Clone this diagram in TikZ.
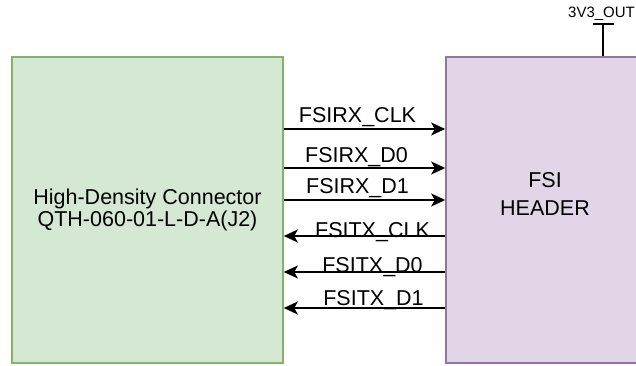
\documentclass[tikz,border=0pt]{standalone}
\usepackage{fontspec}
\setmainfont{Liberation Sans}
\usepackage{tikz}
\usetikzlibrary{calc}
\usetikzlibrary{arrows.meta}
\definecolor{grnfill}{HTML}{D5E8D4}
\definecolor{grnline}{HTML}{82B366}
\definecolor{purfill}{HTML}{E1D5E7}
\definecolor{purline}{HTML}{9673A6}
\newcommand{\bigtxt}{\fontsize{21.5pt}{22pt}\selectfont}
\newcommand{\smalltxt}{\fontsize{15pt}{17pt}\selectfont}

\begin{document}
\begin{tikzpicture}[x=1pt, y=-1pt,
    box/.style={draw, line width=1.6pt, minimum width=#1, minimum height=306pt, inner sep=0pt, align=center},
    sig/.style={line width=1.5pt, -{Stealth[length=14pt, width=13pt, inset=3.5pt]}},
    siglbl/.style={anchor=base, inner sep=0pt, font=\bigtxt}]
        \useasboundingbox (0,0) rectangle (636,366);
        \clip (0,0) rectangle (636,366);
        % boxes
        \node[box=271pt, fill=grnfill, draw=grnline, font=\bigtxt] (conn) at (147.5,210)
            {High-Density Connector\\QTH-060-01-L-D-A(J2)};
        \node[box=198pt, fill=purfill, draw=purline] (hdr) at (545,210) {};
        \node[align=center, inner sep=0pt, font=\fontsize{21.5pt}{28pt}\selectfont] (hdrtext) at (545,194) {FSI\\HEADER};
        % supply
        \coordinate (vtop) at (603,24);
        \draw[line width=1.5pt] (hdr.north -| vtop) -- (vtop);
        \draw[line width=1.5pt] ($(vtop)+(-10.5,0)$) -- ($(vtop)+(10.5,0)$);
        \node[anchor=base, inner sep=0pt, font=\smalltxt] (vout) at (601.5,18) {3V3\_OUT};
        % levels
        \coordinate (rx1) at (0,129);
        \coordinate (rx2) at (0,168);
        \coordinate (rx3) at (0,200);
        \coordinate (tx1) at (0,236);
        \coordinate (tx2) at (0,272);
        \coordinate (tx3) at (0,308);
        % rx
        \draw[sig] (conn.east |- rx1) -- (hdr.west |- rx1);
        \draw[sig] (conn.east |- rx2) -- (hdr.west |- rx2);
        \draw[sig] (conn.east |- rx3) -- (hdr.west |- rx3);
        \node[siglbl] (rx1lbl) at (357.5,123) {FSIRX\_CLK};
        \node[siglbl] (rx2lbl) at (356.5,162) {FSIRX\_D0};
        \node[siglbl] (rx3lbl) at (357.5,193) {FSIRX\_D1};
        % tx
        \draw[sig] (hdr.west |- tx1) -- (conn.east |- tx1);
        \draw[sig] (hdr.west |- tx2) -- (conn.east |- tx2);
        \draw[sig] (hdr.west |- tx3) -- (conn.east |- tx3);
        \node[siglbl] (tx1lbl) at (372.5,237) {FSITX\_CLK};
        \node[siglbl] (tx2lbl) at (372.5,272) {FSITX\_D0};
        \node[siglbl] (tx3lbl) at (373.5,305) {FSITX\_D1};
    \end{tikzpicture}
\end{document}
